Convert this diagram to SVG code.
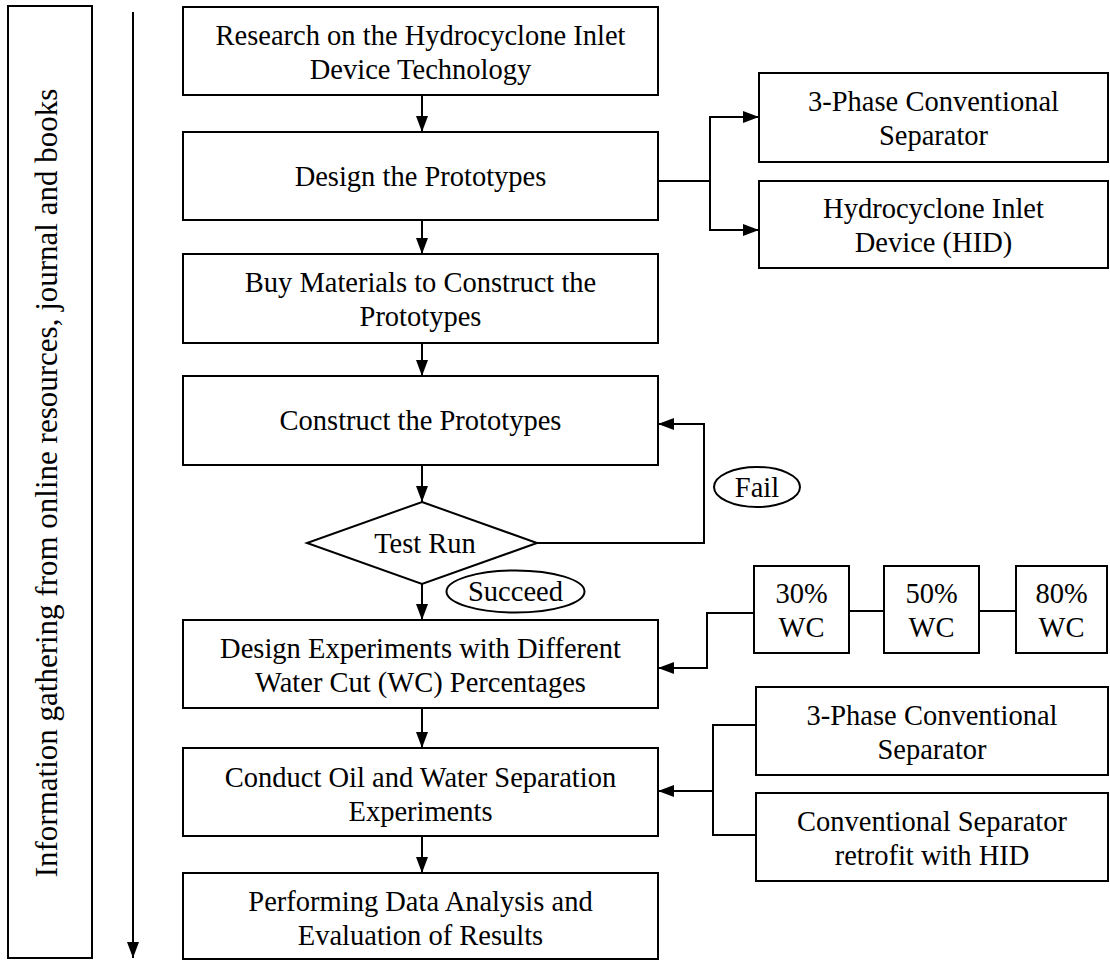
<svg xmlns="http://www.w3.org/2000/svg" width="1110" height="960" viewBox="0 0 1110 960">
<style>
.box{fill:#fff;stroke:#000;stroke-width:2}
.ln{fill:none;stroke:#000;stroke-width:2}
.t{font-family:"Liberation Serif","Times New Roman",serif;font-size:28.5px;fill:#000;text-anchor:middle}
.side{font-family:"Liberation Serif","Times New Roman",serif;font-size:31px;fill:#000;text-anchor:middle}
</style>
<defs>
<marker id="ah" viewBox="0 0 16 12" refX="16" refY="6" markerWidth="16" markerHeight="12" markerUnits="userSpaceOnUse" orient="auto">
<path d="M0,0 L16,6 L0,12 Z" fill="#000"/>
</marker>
</defs>

<g id="side">
<rect class="box" x="8" y="6" width="84" height="952"/>
<text class="side" transform="translate(57,483) rotate(-90)">Information gathering from online resources, journal and books</text>
</g>

<g id="n1"><rect class="box" x="183" y="7" width="475" height="88"/>
<text class="t" x="420.5" y="45">Research on the Hydrocyclone Inlet</text>
<text class="t" x="420.5" y="79">Device Technology</text></g>

<g id="n2"><rect class="box" x="183" y="132" width="475" height="88"/>
<text class="t" x="420.5" y="186">Design the Prototypes</text></g>

<g id="n3"><rect class="box" x="183" y="254" width="475" height="89"/>
<text class="t" x="420.5" y="292">Buy Materials to Construct the</text>
<text class="t" x="420.5" y="326">Prototypes</text></g>

<g id="n4"><rect class="box" x="183" y="376" width="475" height="89"/>
<text class="t" x="420.5" y="430">Construct the Prototypes</text></g>

<g id="n5"><polygon class="box" points="422,502 537,543 422,584 307,543"/>
<text class="t" x="425" y="553">Test Run</text></g>

<g id="n6"><rect class="box" x="183" y="620" width="475" height="88"/>
<text class="t" x="420.5" y="658">Design Experiments with Different</text>
<text class="t" x="420.5" y="692">Water Cut (WC) Percentages</text></g>

<g id="n7"><rect class="box" x="183" y="748" width="475" height="88"/>
<text class="t" x="420.5" y="787">Conduct Oil and Water Separation</text>
<text class="t" x="420.5" y="821">Experiments</text></g>

<g id="n8"><rect class="box" x="183" y="873" width="475" height="86"/>
<text class="t" x="420.5" y="911">Performing Data Analysis and</text>
<text class="t" x="420.5" y="945">Evaluation of Results</text></g>

<g id="r1"><rect class="box" x="759" y="73" width="349" height="89"/>
<text class="t" x="933.5" y="111">3-Phase Conventional</text>
<text class="t" x="933.5" y="145">Separator</text></g>

<g id="r2"><rect class="box" x="759" y="181" width="349" height="87"/>
<text class="t" x="933.5" y="218">Hydrocyclone Inlet</text>
<text class="t" x="933.5" y="252">Device (HID)</text></g>

<g id="wc30"><rect class="box" x="754" y="566" width="95" height="87"/>
<text class="t" x="801.5" y="603">30%</text>
<text class="t" x="801.5" y="637">WC</text></g>

<g id="wc50"><rect class="box" x="884" y="566" width="95" height="87"/>
<text class="t" x="931.5" y="603">50%</text>
<text class="t" x="931.5" y="637">WC</text></g>

<g id="wc80"><rect class="box" x="1016" y="566" width="91" height="87"/>
<text class="t" x="1061.5" y="603">80%</text>
<text class="t" x="1061.5" y="637">WC</text></g>

<g id="r3"><rect class="box" x="756" y="687" width="352" height="88"/>
<text class="t" x="932" y="725">3-Phase Conventional</text>
<text class="t" x="932" y="759">Separator</text></g>

<g id="r4"><rect class="box" x="756" y="793" width="352" height="88"/>
<text class="t" x="932" y="831">Conventional Separator</text>
<text class="t" x="932" y="865">retrofit with HID</text></g>

<g id="fail"><ellipse class="box" cx="757" cy="487" rx="43" ry="20"/>
<text class="t" x="757" y="497">Fail</text></g>

<g id="succeed"><ellipse class="box" cx="515.5" cy="591.5" rx="69" ry="21"/>
<text class="t" x="515.5" y="601">Succeed</text></g>

<g id="connectors">
<line class="ln" x1="133" y1="12" x2="133" y2="958" marker-end="url(#ah)"/>
<line class="ln" x1="422" y1="95" x2="422" y2="132" marker-end="url(#ah)"/>
<line class="ln" x1="422" y1="220" x2="422" y2="254" marker-end="url(#ah)"/>
<line class="ln" x1="422" y1="343" x2="422" y2="376" marker-end="url(#ah)"/>
<line class="ln" x1="422" y1="465" x2="422" y2="502" marker-end="url(#ah)"/>
<line class="ln" x1="422" y1="584" x2="422" y2="620" marker-end="url(#ah)"/>
<line class="ln" x1="422" y1="708" x2="422" y2="748" marker-end="url(#ah)"/>
<line class="ln" x1="422" y1="836" x2="422" y2="873" marker-end="url(#ah)"/>
<polyline class="ln" points="537,543 704,543 704,424 658,424" marker-end="url(#ah)"/>
<line class="ln" x1="658" y1="181" x2="710" y2="181"/>
<polyline class="ln" points="710,181 710,117 759,117" marker-end="url(#ah)"/>
<polyline class="ln" points="710,181 710,230 759,230" marker-end="url(#ah)"/>
<polyline class="ln" points="754,613 707,613 707,668 658,668" marker-end="url(#ah)"/>
<line class="ln" x1="849" y1="611" x2="884" y2="611"/>
<line class="ln" x1="979" y1="611" x2="1016" y2="611"/>
<polyline class="ln" points="756,725 713,725 713,835 756,835"/>
<line class="ln" x1="713" y1="791" x2="658" y2="791" marker-end="url(#ah)"/>
</g>
</svg>
